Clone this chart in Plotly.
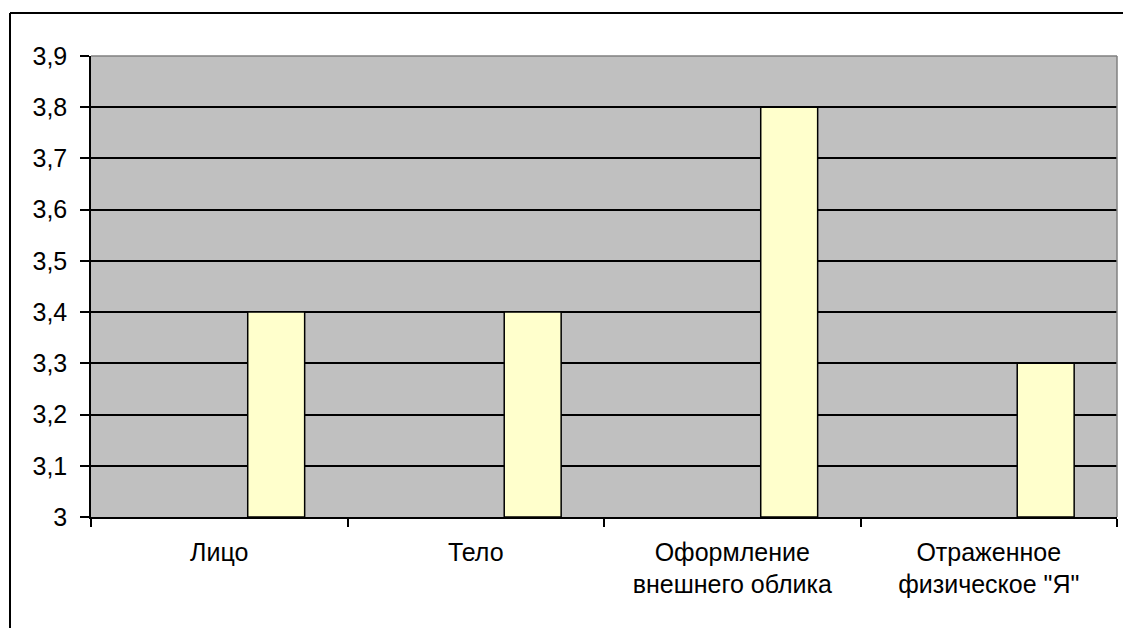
import plotly.graph_objects as go

categories = ["Лицо", "Тело", "Оформление<br>внешнего облика", "Отраженное<br>физическое \"Я\""]
values = [3.4, 3.4, 3.8, 3.3]
y_ticks = [3.0, 3.1, 3.2, 3.3, 3.4, 3.5, 3.6, 3.7, 3.8, 3.9]

FONT = "Liberation Sans, Arial, sans-serif"

fig = go.Figure()
fig.add_trace(go.Bar(
    x=categories, y=[v - 3 for v in values], base=3,
    width=0.222, offset=0.111,
    marker=dict(color="#FFFFCC", line=dict(color="black", width=1.5)),
    hoverinfo="skip",
))

L, R, T, B = 91, 6, 56, 111
W, H = 1123, 628
pw = W - L - R
ph = H - T - B

def px(x):
    return (x - L) / pw

def py(y):
    return (H - B - y) / ph

fig.update_layout(
    width=W, height=H,
    margin=dict(l=L, r=R, t=T, b=B),
    paper_bgcolor="white",
    plot_bgcolor="#C0C0C0",
    separators=", ",
    showlegend=False,
    font=dict(family=FONT, size=25, color="black"),
    xaxis=dict(
        type="category", showgrid=False, showline=True, linecolor="black", linewidth=1.5,
        ticks="outside", tickson="boundaries", ticklen=8, tickcolor="black", tickwidth=1.5,
        tickfont=dict(family=FONT, size=25), mirror=False, range=[-0.5, 3.5],
        ticklabelstandoff=12,
    ),
    yaxis=dict(
        range=[3, 3.9], tickvals=y_ticks, tickformat=".1~f",
        showgrid=True, gridcolor="black", gridwidth=1.5,
        showline=True, linecolor="black", linewidth=1.5,
        ticks="outside", ticklen=9, tickcolor="black", tickwidth=1.5,
        tickfont=dict(family=FONT, size=25), zeroline=False,
        ticklabelstandoff=8,
    ),
    shapes=[
        dict(type="line", xref="paper", yref="paper", x0=0, x1=1, y0=1, y1=1,
             line=dict(color="#808080", width=1.5)),
        dict(type="line", xref="paper", yref="paper", x0=1, x1=1, y0=0, y1=1,
             line=dict(color="#808080", width=1.5)),
        dict(type="line", xref="paper", yref="paper", x0=px(10), x1=px(W + 5), y0=py(13), y1=py(13),
             line=dict(color="black", width=2)),
        dict(type="line", xref="paper", yref="paper", x0=px(10), x1=px(10), y0=py(13), y1=py(H + 5),
             line=dict(color="black", width=2)),
    ],
)

fig.write_html(
    "out.html",
    config={"displayModeBar": False},
    post_script="document.body.style.margin='0';document.body.style.overflow='hidden';",
)
